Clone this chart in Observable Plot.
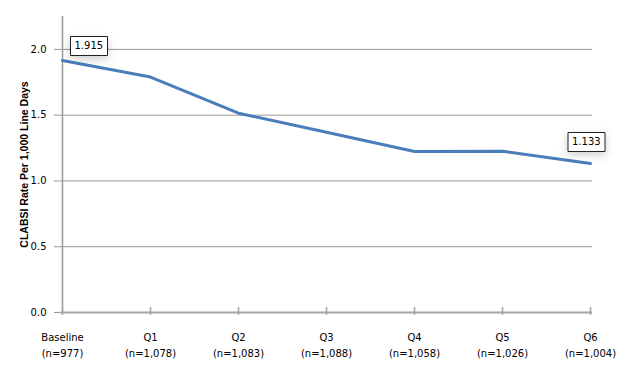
<!DOCTYPE html>
<html>
<head>
<meta charset="utf-8">
<script src="https://cdn.jsdelivr.net/npm/d3@7"></script>
<script src="https://cdn.jsdelivr.net/npm/@observablehq/plot@0.6"></script>
<style>
  html, body { margin: 0; padding: 0; background: #fff; }
  #chart svg { display: block; }
  #chart [aria-label="y-axis label"] text { font-weight: bold; font-family: "Liberation Sans", Arial, sans-serif; font-size: 10.5px; }
</style>
</head>
<body>
<div id="chart"></div>
<script>
const periods = ["Baseline", "Q1", "Q2", "Q3", "Q4", "Q5", "Q6"];
const counts = ["n=977", "n=1,078", "n=1,083", "n=1,088", "n=1,058", "n=1,026", "n=1,004"];
const rates = [1.915, 1.79, 1.515, 1.37, 1.224, 1.226, 1.133];
const yTicks = [0, 0.5, 1.0, 1.5, 2.0];

const data = periods.map((p, i) => ({period: p, n: counts[i], rate: rates[i]}));
const first = data[0];
const last = data[data.length - 1];

const chart = Plot.plot({
  width: 635,
  height: 379,
  marginLeft: 60,
  marginRight: 43,
  marginTop: 16,
  marginBottom: 67,
  style: {fontFamily: "DejaVu Sans, sans-serif", fontSize: "10px", color: "#000", background: "#fff"},
  x: {type: "point", domain: periods, padding: 0},
  y: {domain: [0, 2.25]},
  marks: [
    Plot.gridY(yTicks, {stroke: "#999", strokeOpacity: 1}),
    Plot.ruleX([periods[0]], {stroke: "#999", strokeWidth: 1.5}),
    Plot.ruleY([0], {stroke: "#a6a6a6", strokeWidth: 2}),
    Plot.ruleX(periods, {y1: 0, y2: 0, insetTop: -5, insetBottom: -3, stroke: "#a6a6a6", strokeWidth: 1.5}),
    Plot.axisY(yTicks, {
      tickSize: 6, tickPadding: 8, stroke: "#999",
      tickFormat: d => d.toFixed(1),
      label: "CLABSI Rate Per 1,000 Line Days",
      labelAnchor: "center", labelArrow: "none", labelOffset: 40
    }),
    Plot.axisX({
      tickSize: 0, tickPadding: 17, lineHeight: 1.6,
      tickFormat: (d, i) => d + "\n(" + counts[periods.indexOf(d)] + ")",
      label: null
    }),
    Plot.line(data, {x: "period", y: "rate", stroke: "#4a7ebb", strokeWidth: 3}),
    Plot.tip([first], {
      x: "period", y: "rate", title: d => d.rate.toFixed(3),
      anchor: "bottom-left", pointerSize: 0, dx: 8, dy: -5,
      fill: "white", stroke: "#222", textPadding: 4, fontSize: 10
    }),
    Plot.tip([last], {
      x: "period", y: "rate", title: d => d.rate.toFixed(3),
      anchor: "bottom", pointerSize: 0, dx: -4, dy: -12,
      fill: "white", stroke: "#222", textPadding: 4, fontSize: 10
    })
  ]
});
document.getElementById("chart").appendChild(chart);
</script>
</body>
</html>
